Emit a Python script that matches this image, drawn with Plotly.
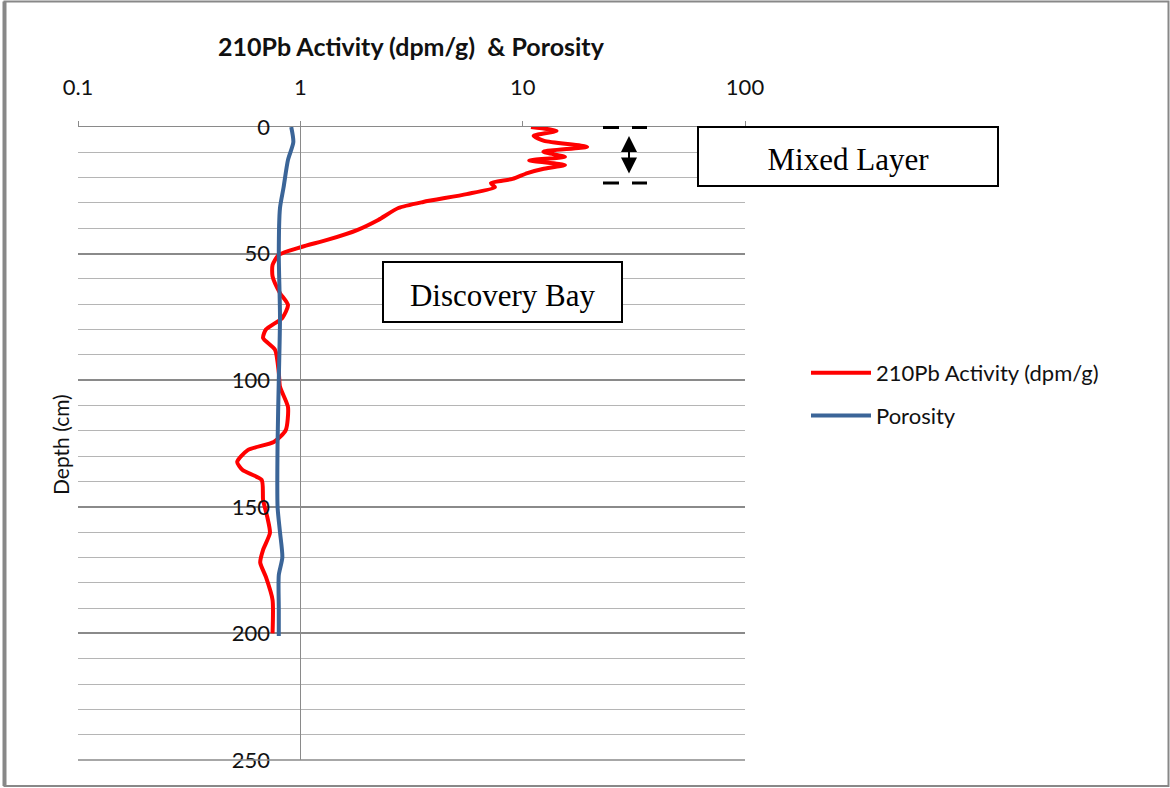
import plotly.graph_objects as go

# 210Pb activity profile (dpm/g) vs depth (cm)
depth_pb = [0, 1.5, 3.5, 5.5, 7.8, 9.8, 11.8, 13.2, 15, 16.6, 18.2, 20.5, 22.2, 23.8,
            26.5, 29.6, 32, 36.7, 40.7, 44.6, 47.4, 50.5, 54.5, 59, 65.6, 70.3, 75.4,
            80, 83.3, 88, 97, 102.6, 110.6, 119.7, 124.4, 127.6, 132.3, 135.5, 139.4,
            147.3, 154, 160.3, 167, 172, 177.7, 186.8, 200]
pb210 = [10.9, 14.2, 11.2, 12.5, 19.5, 12.4, 15.5, 10.7, 15.5, 12.3, 10.5, 9.0, 7.2, 7.5,
         5.6, 3.57, 2.76, 2.24, 1.80, 1.32, 1.01, 0.80, 0.75, 0.75, 0.81, 0.88, 0.83,
         0.70, 0.68, 0.77, 0.80, 0.81, 0.88, 0.86, 0.76, 0.58, 0.52, 0.55, 0.67,
         0.68, 0.71, 0.73, 0.68, 0.66, 0.70, 0.75, 0.75]

# porosity vs depth (cm)
depth_por = [0, 6, 13, 24, 32, 50, 75, 100, 125, 150, 160, 170, 177, 190, 201]
porosity = [0.91, 0.93, 0.88, 0.84, 0.81, 0.80, 0.81, 0.80, 0.79, 0.79, 0.81, 0.83, 0.80, 0.80, 0.80]

x_ticks = [0.1, 1, 10, 100]
x_ticktext = ['0.1', '1', '10', '100']
y_ticks = [0, 50, 100, 150, 200, 250]

FONT = 'Lato'
GRID_MAJOR = '#8a8a8a'
GRID_MINOR = '#b5b5b5'

fig = go.Figure()

fig.add_trace(go.Scatter(
    x=pb210, y=depth_pb, mode='lines', name='210Pb Activity (dpm/g)',
    line=dict(color='#ff0000', width=4, shape='spline', smoothing=0.6),
    legendgroup='pb'))
fig.add_trace(go.Scatter(
    x=porosity, y=depth_por, mode='lines', name='Porosity',
    line=dict(color='#3b6598', width=4, shape='spline', smoothing=0.7),
    legendgroup='por'))

fig.update_xaxes(
    type='log', range=[-1, 2], side='top',
    tickvals=x_ticks, ticktext=x_ticktext,
    ticks='outside', ticklen=5, tickcolor=GRID_MAJOR,
    showline=True, linecolor=GRID_MAJOR, linewidth=1,
    showgrid=False, zeroline=False,
    ticklabelstandoff=17,
    tickfont=dict(family=FONT, size=22, color='#111'),
)
fig.update_yaxes(
    range=[250, 0], anchor='free', position=1/3,
    tickvals=y_ticks, ticks='', ticklabelstandoff=26,
    showline=True, linecolor=GRID_MAJOR, linewidth=1,
    showgrid=True, gridcolor=GRID_MAJOR, gridwidth=1.5,
    minor=dict(dtick=10, showgrid=True, gridcolor=GRID_MINOR, gridwidth=1),
    zeroline=False,
    tickfont=dict(family=FONT, size=22, color='#111'),
)


def px(x):
    return (x - 78) / 667


def py(y):
    return (760 - y) / 633


shapes = []
# outer frame
shapes.append(dict(type='rect', xref='paper', yref='paper',
                   x0=px(4.5), x1=px(1168.5), y0=py(786), y1=py(1.5),
                   line=dict(color='#888', width=2)))
shapes.append(dict(type='line', xref='paper', yref='paper',
                   x0=px(4.5), x1=px(4.5), y0=py(786), y1=py(1.5),
                   line=dict(color='#888', width=4)))
# bottom gridline at 250
shapes.append(dict(type='line', xref='paper', yref='paper',
                   x0=0, x1=1, y0=0, y1=0,
                   line=dict(color=GRID_MAJOR, width=1.5)))
# text boxes
shapes.append(dict(type='rect', xref='paper', yref='paper',
                   x0=px(698), x1=px(998), y0=py(186), y1=py(127),
                   line=dict(color='black', width=2), fillcolor='white',
                   label=dict(text='Mixed Layer',
                              font=dict(family='Liberation Serif', size=31, color='black'))))
shapes.append(dict(type='rect', xref='paper', yref='paper',
                   x0=px(383), x1=px(622), y0=py(322), y1=py(262),
                   line=dict(color='black', width=2), fillcolor='white',
                   label=dict(text='Discovery Bay',
                              font=dict(family='Liberation Serif', size=31, color='black'))))
# dashed bounds of the mixed layer
for yy in (127.5, 183):
    for xa, xb in ((603, 619), (632, 647)):
        shapes.append(dict(type='line', xref='paper', yref='paper',
                           x0=px(xa), x1=px(xb), y0=py(yy), y1=py(yy),
                           line=dict(color='black', width=3)))

fig.update_layout(shapes=shapes)

fig.add_annotation(x=px(629), y=py(136), xref='paper', yref='paper',
                   ax=0, ay=39, text='', showarrow=True,
                   arrowhead=2, arrowside='end+start', arrowsize=1.6, arrowwidth=2,
                   arrowcolor='black', standoff=0, startstandoff=0)
fig.add_annotation(x=px(411), y=py(46), xref='paper', yref='paper', showarrow=False,
                   xanchor='center', yanchor='middle',
                   text='<b>210Pb Activity (dpm/g)  & Porosity</b>',
                   font=dict(family=FONT, size=25, color='#111'))
fig.add_annotation(x=px(60), y=py(445), xref='paper', yref='paper', showarrow=False,
                   xanchor='center', yanchor='middle',
                   text='Depth (cm)', textangle=-90,
                   font=dict(family=FONT, size=21, color='#111'))

fig.update_layout(
    width=1170, height=788, autosize=False,
    margin=dict(l=78, r=425, t=127, b=28),
    plot_bgcolor='white', paper_bgcolor='white',
    showlegend=True,
    legend=dict(x=px(806), y=py(352), xanchor='left', yanchor='top',
                tracegroupgap=11, itemwidth=60,
                font=dict(family=FONT, size=22, color='#111'),
                bgcolor='rgba(0,0,0,0)'),
)

fig.write_html("out.html", config={'displayModeBar': False},
               post_script="document.body.style.margin='0';")
